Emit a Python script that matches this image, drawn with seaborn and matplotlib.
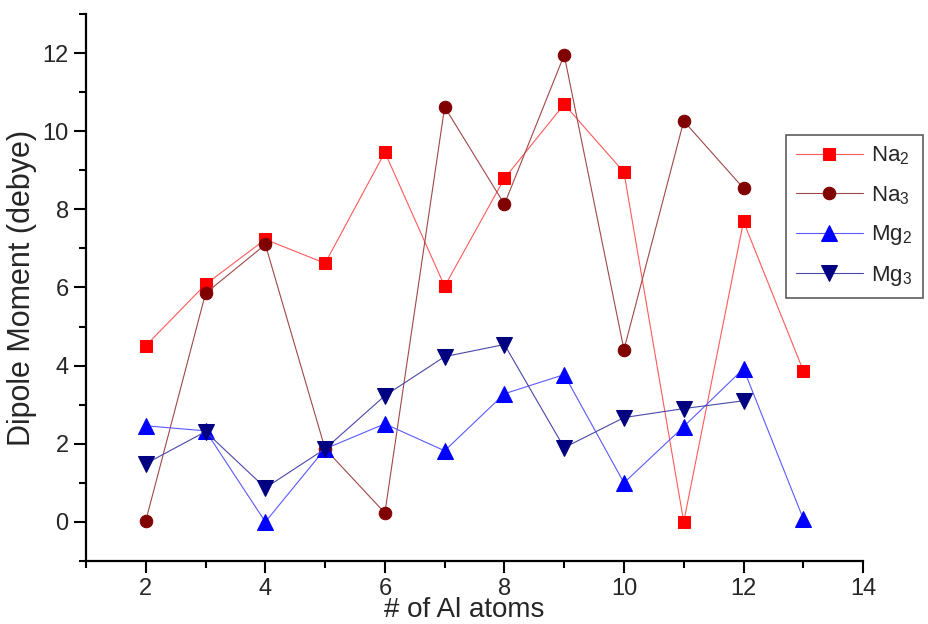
import numpy as np
import pandas as pd
import matplotlib
matplotlib.use("Agg")
import matplotlib.pyplot as plt
import seaborn as sns

sns.set_style("ticks")
plt.rcParams['font.family'] = ['Liberation Sans', 'DejaVu Sans']
plt.rcParams['mathtext.fontset'] = 'custom'
plt.rcParams['mathtext.rm'] = 'Liberation Sans'
plt.rcParams['mathtext.it'] = 'Liberation Sans:italic'

# data
atoms = [2, 3, 4, 5, 6, 7, 8, 9, 10, 11, 12, 13]
na2 = [4.51, 6.08, 7.23, 6.62, 9.46, 6.03, 8.79, 10.69, 8.95, 0.0, 7.69, 3.87]
na3 = [0.03, 5.85, 7.10, 1.87, 0.23, 10.62, 8.13, 11.95, 4.41, 10.26, 8.54, np.nan]
mg2 = [2.46, 2.33, 0.0, 1.87, 2.51, 1.82, 3.28, 3.77, 1.0, 2.44, 3.92, 0.08]
mg3 = [1.49, 2.31, 0.87, 1.87, 3.23, 4.23, 4.54, 1.90, 2.67, 2.90, 3.10, np.nan]

series = [
    ("Na$_2$", na2, "s", "#ff0000", "#ff5a5a", 8),
    ("Na$_3$", na3, "o", "#800000", "#a04848", 9),
    ("Mg$_2$", mg2, "^", "#0000ff", "#5a5aff", 11),
    ("Mg$_3$", mg3, "v", "#000080", "#4848a8", 11),
]

fig = plt.figure(figsize=(9.29, 6.24), dpi=100)
ax = fig.add_axes([0.0926, 0.101, 0.8364, 0.8766])

for label, vals, mk, mcol, lcol, ms in series:
    df = pd.DataFrame({"x": atoms, "y": vals}).dropna()
    sns.lineplot(data=df, x="x", y="y", ax=ax, color=lcol, linewidth=0.8,
                 marker=mk, markersize=ms, markerfacecolor=mcol,
                 markeredgecolor=mcol, label=label)

ax.set_xlim(1, 14)
ax.set_ylim(-1, 13)
ax.set_xticks([2, 4, 6, 8, 10, 12, 14])
ax.set_xticks([1, 3, 5, 7, 9, 11, 13], minor=True)
ax.set_yticks([0, 2, 4, 6, 8, 10, 12])
ax.set_yticks([-1, 1, 3, 5, 7, 9, 11, 13], minor=True)
ax.tick_params(which='major', length=8.5, width=1.5, labelsize=17,
               color='black', pad=4)
ax.tick_params(which='minor', length=5, width=1.5, color='black')
for s in ['left', 'bottom']:
    ax.spines[s].set_linewidth(1.6)
    ax.spines[s].set_color('black')
sns.despine(ax=ax)

ax.set_xlabel("# of Al atoms", fontsize=20)
# keep the x label inside the figure, right at the bottom edge
ax.xaxis.set_label_coords(0.5, 0.002, transform=fig.transFigure)
ax.xaxis.label.set_va('bottom')
ax.set_ylabel("Dipole Moment (debye)", fontsize=22, labelpad=4)

leg = ax.legend(loc='upper left', bbox_to_anchor=(0.846, 0.784),
                bbox_transform=fig.transFigure, fontsize=16, frameon=True,
                fancybox=False, edgecolor='#333333', handlelength=3.0,
                handletextpad=0.4, borderaxespad=0, labelspacing=0.75,
                borderpad=0.45)
leg.get_frame().set_linewidth(1.2)

fig.savefig("out.png", dpi=100)
